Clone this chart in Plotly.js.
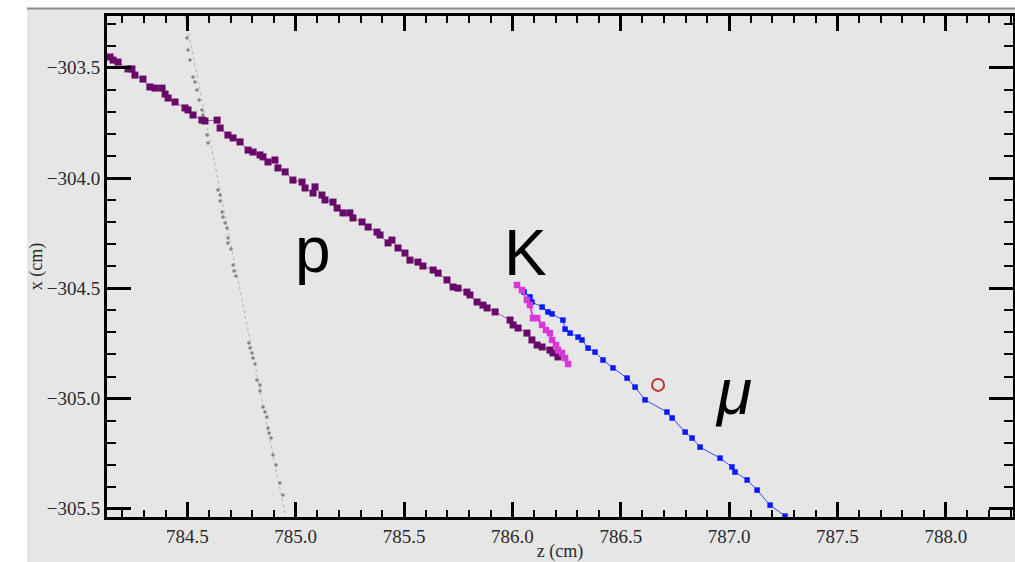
<!DOCTYPE html>
<html>
<head>
<meta charset="utf-8">
<script src="https://cdn.plot.ly/plotly-3.0.1.min.js"></script>
<style>html,body{margin:0;padding:0;background:#fff;}#chart{width:1015px;height:562px;}</style>
</head>
<body>
<div id="chart"></div>
<script>
// proton track (p)
const protonZ = [784.143,784.157,784.180,784.226,784.244,784.258,784.295,784.327,784.351,784.383,784.397,784.411,784.443,784.489,784.503,784.526,784.567,784.581,784.637,784.651,784.687,784.711,784.743,784.780,784.803,784.835,784.849,784.872,784.904,784.918,784.951,784.987,785.029,785.043,785.080,785.089,785.121,785.135,785.172,785.191,785.218,785.250,785.264,785.306,785.334,785.375,785.389,785.426,785.444,785.472,785.504,785.527,785.564,785.587,785.634,785.657,785.698,785.726,785.749,785.790,785.804,785.837,785.864,785.883,785.920,785.989,786.003,786.026,786.067,786.090,786.114,786.137,786.173,786.187,786.210];
const protonX = [-303.451,-303.465,-303.474,-303.505,-303.505,-303.533,-303.551,-303.587,-303.592,-303.592,-303.619,-303.637,-303.655,-303.682,-303.691,-303.714,-303.737,-303.741,-303.737,-303.773,-303.805,-303.818,-303.836,-303.873,-303.882,-303.895,-303.904,-303.927,-303.918,-303.954,-303.972,-304.009,-304.018,-304.045,-304.068,-304.040,-304.077,-304.099,-304.109,-304.136,-304.158,-304.158,-304.181,-304.199,-304.222,-304.245,-304.258,-304.294,-304.281,-304.317,-304.340,-304.372,-304.381,-304.399,-304.417,-304.431,-304.462,-304.494,-304.499,-304.517,-304.530,-304.562,-304.576,-304.589,-304.607,-304.644,-304.666,-304.680,-304.703,-304.734,-304.757,-304.766,-304.780,-304.793,-304.811];

// kaon track (K)
const kaonZ = [786.021,786.044,786.067,786.081,786.095,786.114,786.137,786.155,786.173,786.183,786.201,786.210,786.229,786.243,786.257];
const kaonX = [-304.485,-304.508,-304.553,-304.576,-304.635,-304.635,-304.666,-304.689,-304.703,-304.734,-304.757,-304.780,-304.793,-304.816,-304.843];

// muon track (mu)
const muonZ = [786.054,786.081,786.090,786.137,786.164,786.183,786.233,786.243,786.266,786.303,786.321,786.349,786.381,786.418,786.464,786.529,786.566,786.612,786.713,786.737,786.797,786.829,786.866,786.958,787.013,787.027,787.083,787.129,787.189,787.258];
const muonX = [-304.517,-304.539,-304.562,-304.585,-304.607,-304.616,-304.644,-304.685,-304.703,-304.721,-304.734,-304.771,-304.789,-304.825,-304.861,-304.907,-304.948,-305.006,-305.061,-305.088,-305.152,-305.179,-305.220,-305.270,-305.310,-305.333,-305.369,-305.415,-305.483,-305.533];

// unrelated steep track (gray dots)
const grayZ = [784.498,784.503,784.512,784.526,784.535,784.544,784.554,784.567,784.572,784.591,784.595,784.641,784.651,784.651,784.660,784.664,784.674,784.683,784.687,784.687,784.701,784.711,784.715,784.724,784.784,784.789,784.798,784.803,784.812,784.821,784.835,784.835,784.849,784.858,784.867,784.872,784.877,784.886,784.895,784.909,784.927,784.941];
const grayX = [-303.365,-303.419,-303.465,-303.542,-303.564,-303.601,-303.646,-303.691,-303.714,-303.805,-303.841,-304.054,-304.077,-304.104,-304.154,-304.177,-304.204,-304.226,-304.272,-304.294,-304.322,-304.394,-304.421,-304.444,-304.748,-304.771,-304.793,-304.816,-304.843,-304.916,-304.938,-304.966,-305.038,-305.061,-305.084,-305.133,-305.156,-305.179,-305.256,-305.301,-305.383,-305.437];
const grayLineZ = [784.489, 784.953];
const grayLineX = [-303.265, -305.537];

// vertex marker
const vertexZ = [786.672];
const vertexX = [-304.938];

// axis
const zRange = [784.129, 788.310];
const xRange = [-305.537, -303.265];

const traces = [
  {x: grayLineZ, y: grayLineX, mode: 'lines', line: {color: '#b5b5b5', width: 1, dash: 'dot'}, hoverinfo: 'skip', showlegend: false},
  {x: grayZ, y: grayX, mode: 'markers', marker: {color: '#858585', size: 3.5, symbol: 'circle'}, showlegend: false},
  {x: protonZ, y: protonX, mode: 'lines+markers', line: {color: '#a060a0', width: 1}, marker: {color: '#680a68', size: 7, symbol: 'square'}, showlegend: false},
  {x: muonZ, y: muonX, mode: 'lines+markers', line: {color: '#3344ff', width: 1}, marker: {color: '#0a1aff', size: 5.5, symbol: 'square'}, showlegend: false},
  {x: kaonZ, y: kaonX, mode: 'lines+markers', line: {color: '#e040e0', width: 2}, marker: {color: '#d838d8', size: 6.5, symbol: 'square'}, showlegend: false},
  {x: vertexZ, y: vertexX, mode: 'markers', marker: {color: 'rgba(0,0,0,0)', size: 12, symbol: 'circle', line: {color: '#c0302a', width: 2}}, showlegend: false}
];

const serif = 'Liberation Serif, Times New Roman, serif';
const tickFont = {family: serif, size: 19, color: '#2a2a2a'};

const layout = {
  width: 1015, height: 562,
  margin: {l: 107, r: 2, t: 16, b: 45},
  paper_bgcolor: '#e6e6e6',
  plot_bgcolor: '#e6e6e6',
  showlegend: false,
  xaxis: {
    range: zRange, showgrid: false, zeroline: false,
    showline: true, linecolor: '#000', linewidth: 3, mirror: 'ticks',
    ticks: 'inside', ticklen: 15, tickwidth: 3, tickcolor: '#000',
    dtick: 0.5, tick0: 784.5, tickformat: '.1f',
    minor: {dtick: 0.1, ticks: 'inside', ticklen: 7, tickwidth: 2, tickcolor: '#000', showgrid: false},
    tickfont: tickFont,
    title: {text: 'z (cm)', font: {family: serif, size: 18, color: '#2a2a2a'}, standoff: 0}
  },
  yaxis: {
    range: xRange, showgrid: false, zeroline: false,
    showline: true, linecolor: '#000', linewidth: 3, mirror: 'ticks',
    ticks: 'inside', ticklen: 24, tickwidth: 3, tickcolor: '#000',
    dtick: 0.5, tick0: -303.5, tickformat: '.1f',
    minor: {dtick: 0.1, ticks: 'inside', ticklen: 9, tickwidth: 2, tickcolor: '#000', showgrid: false},
    tickfont: tickFont,
    title: {text: 'x (cm)', font: {family: serif, size: 18, color: '#2a2a2a'}, standoff: 0}
  },
  shapes: [
    {type: 'rect', xref: 'paper', yref: 'paper', x0: -0.2, x1: -0.0883, y0: -0.2, y1: 1.1, fillcolor: '#ffffff', line: {width: 0}, layer: 'below'},
    {type: 'rect', xref: 'paper', yref: 'paper', x0: -0.2, x1: 1.1, y0: 1.016, y1: 1.1, fillcolor: '#ffffff', line: {width: 0}, layer: 'below'},
    {type: 'line', xref: 'paper', yref: 'paper', x0: -0.0883, x1: 1.1, y0: 1.015, y1: 1.015, line: {color: '#8c8c8c', width: 2}, layer: 'below'}
  ],
  annotations: [
    {xref: 'x', yref: 'y', x: 785.080, y: -304.326, text: 'p', showarrow: false, font: {family: 'Liberation Sans, Arial, sans-serif', size: 64, color: '#000'}},
    {xref: 'x', yref: 'y', x: 786.058, y: -304.340, text: 'K', showarrow: false, font: {family: 'Liberation Sans, Arial, sans-serif', size: 64, color: '#000'}},
    {xref: 'x', yref: 'y', x: 787.018, y: -304.970, text: '<i>μ</i>', showarrow: false, font: {family: 'Liberation Sans, Arial, sans-serif', size: 64, color: '#000'}}
  ]
};

Plotly.newPlot('chart', traces, layout, {displayModeBar: false, staticPlot: true});
</script>
</body>
</html>
